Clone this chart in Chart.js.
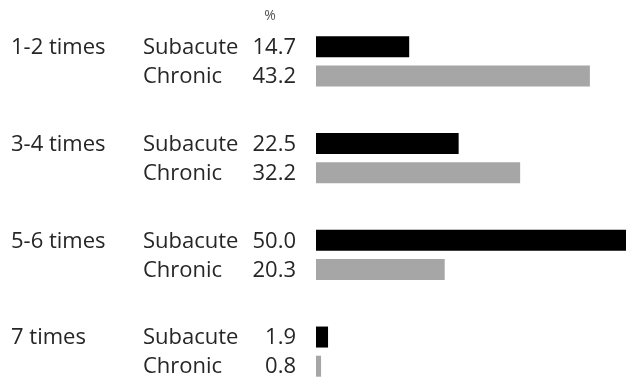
<!DOCTYPE html>
<html>
<head>
<meta charset="utf-8">
<script src="https://cdn.jsdelivr.net/npm/chart.js@4/dist/chart.umd.min.js"></script>
<style>
  html, body { margin: 0; padding: 0; background: #fff; overflow: hidden; }
  #wrap { width: 626px; height: 380px; overflow: hidden; }
</style>
</head>
<body>
<div id="wrap"><canvas id="chart" width="634" height="400"></canvas></div>
<script>
// frequency groups and percentages per series
const groups = ['1-2 times', '3-4 times', '5-6 times', '7 times'];
const seriesNames = ['Subacute', 'Chronic'];
const subacute = [14.7, 22.5, 50.0, 1.9];
const chronic = [43.2, 32.2, 20.3, 0.8];
const unitLabel = '%';

const FONT = '"Open Sans", "Noto Sans", sans-serif';
const TEXT = '#262626';

// draws the row text to the left of the bars
const rowLabels = {
    id: 'rowLabels',
    afterDatasetsDraw(chart) {
        const ctx = chart.ctx;
        ctx.save();
        ctx.textBaseline = 'middle';

        ctx.fillStyle = '#555';
        ctx.font = '14px ' + FONT;
        ctx.textAlign = 'center';
        ctx.fillText(unitLabel, 270, 16);

        ctx.fillStyle = TEXT;
        ctx.font = '22px ' + FONT;
        chart.data.datasets.forEach((ds, i) => {
            const meta = chart.getDatasetMeta(i);
            meta.data.forEach((bar, j) => {
                const y = bar.y + 1;
                if (i === 0) {
                    ctx.textAlign = 'left';
                    ctx.fillText(groups[j], 11, y);
                }
                ctx.textAlign = 'left';
                ctx.fillText(ds.label, 143, y);
                ctx.textAlign = 'right';
                ctx.fillText(ds.data[j].toFixed(1), 296, y);
            });
        });
        ctx.restore();
    }
};

new Chart(document.getElementById('chart'), {
    type: 'bar',
    data: {
        labels: groups,
        datasets: [
            { label: seriesNames[0], data: subacute, backgroundColor: '#000000' },
            { label: seriesNames[1], data: chronic, backgroundColor: '#a6a6a6' }
        ]
    },
    options: {
        indexAxis: 'y',
        responsive: false,
        animation: false,
        categoryPercentage: 0.603,
        barPercentage: 0.72,
        layout: { padding: { left: 316, right: 1, top: 13, bottom: 0 } },
        scales: {
            x: { display: false, min: 0, max: 50 },
            y: { display: false }
        },
        plugins: {
            legend: { display: false },
            tooltip: { enabled: false }
        }
    },
    plugins: [rowLabels]
});
</script>
</body>
</html>
